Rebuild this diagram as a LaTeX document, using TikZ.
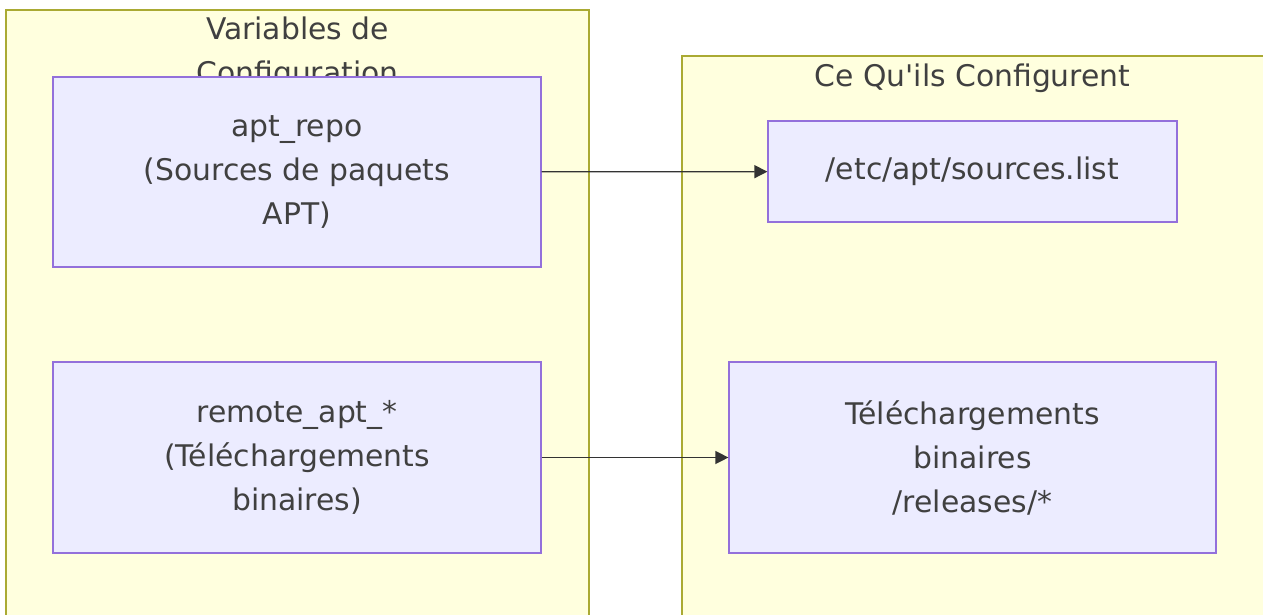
\documentclass[tikz,border=0pt]{standalone}
\usepackage{fontspec}
\setmainfont{DejaVu Sans}
\usetikzlibrary{positioning,arrows.meta}
\definecolor{clusterfill}{HTML}{FFFFDE}
\definecolor{clusterline}{HTML}{AAAA33}
\definecolor{boxfill}{HTML}{ECECFF}
\definecolor{boxline}{HTML}{9370DB}
\definecolor{edgeline}{HTML}{333333}
\begin{document}
\begin{tikzpicture}[
  x=1pt, y=-1pt,
  >={Triangle[length=13pt,width=13pt]},
  cluster/.style={fill=clusterfill, draw=clusterline, line width=1.5pt},
  varbox/.style={rectangle, fill=boxfill, draw=boxline, line width=1.2pt,
    align=center, font=\fontsize{29.8}{44}\selectfont, text=black!75},
  title/.style={font=\fontsize{29.8}{44}\selectfont, text=black!75, align=center},
  edge/.style={->, edgeline, line width=1.3pt},
]
\useasboundingbox (0,0) rectangle (1263,614);
\clip (0,0) rectangle (1263,614);

% Clusters
\draw[cluster] (6,10) rectangle (589,640);
\node[title] (vartitle) at (297.5,53) {Variables de\\Configuration};
\draw[cluster] (682,56) rectangle (1290,640);
\node[title] (cfgtitle) at (972.5,78) {Ce Qu\textquotesingle ils Configurent};

% Variables
\node[varbox, minimum width=488pt, minimum height=190pt] (aptrepo) at (297,172)
  {apt\_repo\\(Sources de paquets\\APT)};
\node[varbox, minimum width=488pt, minimum height=191pt] (remoteapt) at (297,457.5)
  {remote\_apt\_*\\(Téléchargements\\binaires)};

% Targets
\node[varbox, minimum width=409pt, minimum height=101pt] (sources) at (972.5,171.5)
  {/etc/apt/sources.list};
\node[varbox, minimum width=487pt, minimum height=191pt] (releases) at (972.5,457.5)
  {Téléchargements\\binaires\\/releases/*};

% Edges
\draw[edge] (aptrepo) -- (sources);
\draw[edge] (remoteapt) -- (releases);

\end{tikzpicture}
\end{document}
